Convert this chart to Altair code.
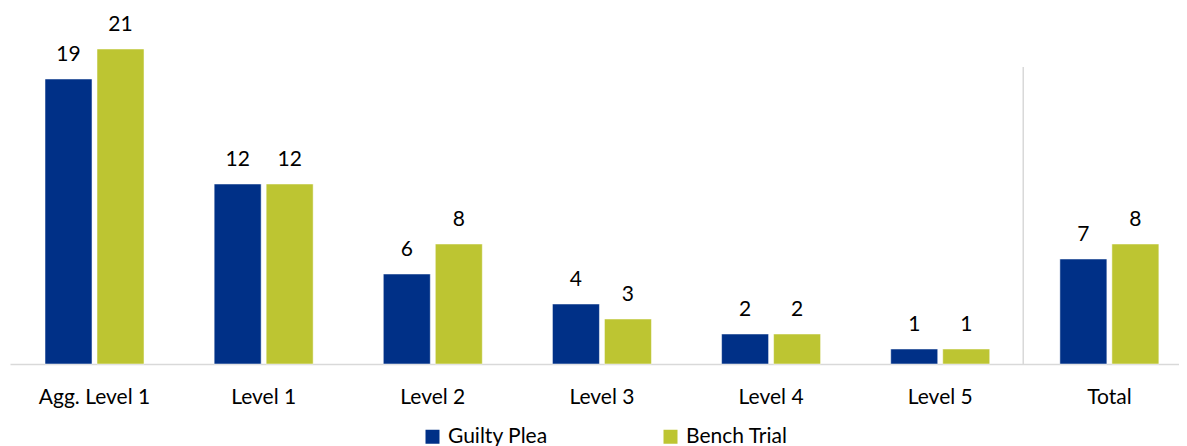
import altair as alt
import pandas as pd

categories = ["Agg. Level 1", "Level 1", "Level 2", "Level 3", "Level 4", "Level 5", "Total"]
series = ["Guilty Plea", "Bench Trial"]
guilty_plea = [19, 12, 6, 4, 2, 1, 7]
bench_trial = [21, 12, 8, 3, 2, 1, 8]
colors = ["#003087", "#BDC532"]

rows = []
for c, g, b in zip(categories, guilty_plea, bench_trial):
    rows.append({"cat": c, "series": "Guilty Plea", "value": g})
    rows.append({"cat": c, "series": "Bench Trial", "value": b})
df = pd.DataFrame(rows)

# separator drawn after the "Level 5" group, before "Total"
divider_df = pd.DataFrame({"cat": ["Level 5"], "lo": [0.0], "hi": [19.8]})

PLOT_H = 356
PX_PER_UNIT = 15
FONT = "Lato"
FS = 21

x_scale = alt.Scale(domain=categories, paddingInner=0.4147, paddingOuter=0.163, align=0.635)
y_scale = alt.Scale(domain=[0, PLOT_H / PX_PER_UNIT], nice=False, zero=True)
xo_scale = alt.Scale(domain=series, paddingInner=0.0962, paddingOuter=0)

x_enc = alt.X("cat:N", scale=x_scale,
              axis=alt.Axis(title=None, ticks=False, domainColor="#D9D9D9", domainWidth=1.5,
                            labelFont=FONT, labelFontSize=FS, labelColor="#000000",
                            labelBaseline="alphabetic", labelPadding=39, labelAngle=0))

bars = alt.Chart(df).mark_bar(stroke="white", strokeWidth=0.5).encode(
    x=x_enc,
    xOffset=alt.XOffset("series:N", scale=xo_scale),
    y=alt.Y("value:Q", scale=y_scale, axis=None),
    color=alt.Color("series:N", scale=alt.Scale(domain=series, range=colors),
                    legend=alt.Legend(title=None, orient="none", legendX=412, legendY=418,
                                      direction="horizontal", symbolType="square", symbolSize=196,
                                      symbolStrokeWidth=0, labelFont=FONT, labelFontSize=FS,
                                      labelColor="#000000", labelOffset=5, columnPadding=112,
                                      padding=0)),
)

labels = alt.Chart(df).mark_text(font=FONT, fontSize=FS, color="#000000",
                                 baseline="alphabetic", dy=-18).encode(
    x=alt.X("cat:N"),
    xOffset=alt.XOffset("series:N"),
    y=alt.Y("value:Q"),
    text=alt.Text("value:Q"),
)

divider = alt.Chart(divider_df).mark_rule(color="#D9D9D9", strokeWidth=1.5, xOffset=33.5).encode(
    x=alt.X("cat:N", bandPosition=1),
    y=alt.Y("lo:Q"),
    y2="hi:Q",
)

chart = alt.layer(bars, labels, divider).properties(
    width=1169, height=PLOT_H,
    autosize=alt.AutoSizeParams(type="none"),
    padding={"left": 2, "top": 0, "right": 0, "bottom": 82},
    background="white",
).configure_view(stroke=None)

chart.save("out.html", embed_options={"renderer": "svg", "actions": False})
